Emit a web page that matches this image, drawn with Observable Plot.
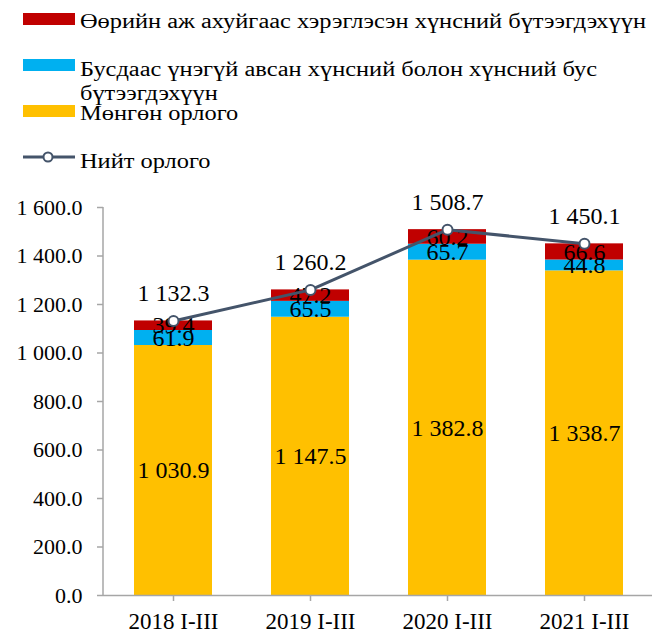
<!DOCTYPE html>
<html>
<head>
<meta charset="utf-8">
<script src="https://cdn.jsdelivr.net/npm/d3@7"></script>
<script src="https://cdn.jsdelivr.net/npm/@observablehq/plot@0.6"></script>
<style>
  html, body { margin: 0; padding: 0; background: #fff; }
  #wrap { position: relative; width: 652px; height: 633px; font-family: 'Liberation Serif', serif; color: #000; }
  #legend { position: relative; width: 652px; height: 180px; }
  .sw { position: absolute; left: 23px; width: 52px; height: 12px; }
  .lt { position: absolute; left: 80px; font-family: 'Liberation Serif', serif; font-size: 20px; line-height: 24px; white-space: nowrap; transform-origin: 0 0; }
  #chart { position: absolute; left: 0; top: 180px; }
  #chart svg text { font-family: 'Liberation Serif', serif; }
</style>
</head>
<body>
<div id="wrap">
  <div id="legend"></div>
  <div id="chart"></div>
</div>
<script>
const categories = ["2018 I-III", "2019 I-III", "2020 I-III", "2021 I-III"];
const moneyIncome = [1030.9, 1147.5, 1382.8, 1338.7];
const freeReceived = [61.9, 65.5, 65.7, 44.8];
const ownProduced = [39.4, 47.2, 60.2, 66.6];
const totalIncome = [1132.3, 1260.2, 1508.7, 1450.1];
const seriesNames = [
  "Өөрийн аж ахуйгаас хэрэглэсэн хүнсний бүтээгдэхүүн",
  "Бусдаас үнэгүй авсан хүнсний болон хүнсний бус бүтээгдэхүүн",
  "Мөнгөн орлого",
  "Нийт орлого"
];
const yTicks = [0, 200, 400, 600, 800, 1000, 1200, 1400, 1600];

const colRed = "#C00000", colBlue = "#00B0F0", colYellow = "#FFC000", colLine = "#44546A", colAxis = "#A6A6A6";
const stackOrder = [seriesNames[2], seriesNames[1], seriesNames[0]];

const stackData = [];
categories.forEach((c, i) => {
  stackData.push({category: c, series: seriesNames[2], value: moneyIncome[i]});
  stackData.push({category: c, series: seriesNames[1], value: freeReceived[i]});
  stackData.push({category: c, series: seriesNames[0], value: ownProduced[i]});
});
const totalData = categories.map((c, i) => ({category: c, value: totalIncome[i]}));

const fmt = v => d3.format(",.1f")(v).replace(/,/g, " ");

// Legend (HTML)
const legend = document.getElementById("legend");
const legendItems = [
  {color: colRed, swTop: 13, textTop: 9, lines: [seriesNames[0]]},
  {color: colBlue, swTop: 59, textTop: 57, lines: ["Бусдаас үнэгүй авсан хүнсний болон хүнсний бус", "бүтээгдэхүүн"]},
  {color: colYellow, swTop: 105, textTop: 101, lines: [seriesNames[2]]}
];
const legendTexts = [];
legendItems.forEach(it => {
  const sw = document.createElement("div");
  sw.className = "sw"; sw.style.top = it.swTop + "px"; sw.style.background = it.color;
  legend.appendChild(sw);
  const t = document.createElement("div");
  t.className = "lt"; t.style.top = it.textTop + "px";
  t.innerHTML = it.lines.join("<br>");
  legend.appendChild(t);
  legendTexts.push(t);
});
{
  const svgNS = "http://www.w3.org/2000/svg";
  const s = document.createElementNS(svgNS, "svg");
  s.setAttribute("width", 60); s.setAttribute("height", 20);
  s.style.position = "absolute"; s.style.left = "20px"; s.style.top = "147px";
  s.innerHTML = `<line x1="3" x2="55" y1="10" y2="10" stroke="${colLine}" stroke-width="3"/><circle cx="28" cy="10" r="4.5" fill="#fff" stroke="${colLine}" stroke-width="2"/>`;
  legend.appendChild(s);
  const t = document.createElement("div");
  t.className = "lt"; t.style.top = "149px";
  t.textContent = seriesNames[3];
  legend.appendChild(t);
  legendTexts.push(t);
}
// widen legend text to the reference's wide lettering (first line ends near x=646)
{
  const w = legendTexts[0].getBoundingClientRect().width;
  const s = Math.max(1, Math.min(1.3, 566 / w));
  legendTexts.forEach(t => t.style.transform = `scaleX(${s})`);
}

const chart = Plot.plot({
  width: 652,
  height: 453,
  marginTop: 27,
  marginBottom: 38,
  marginLeft: 103,
  marginRight: -2,
  style: {fontFamily: "'Liberation Serif', serif", fontSize: "21px", color: "#000", background: "transparent", overflow: "visible"},
  x: {domain: categories, paddingInner: 0.434, paddingOuter: 0.217, label: null, axis: null},
  y: {domain: [0, 1600], label: null, axis: null},
  color: {domain: stackOrder, range: [colYellow, colBlue, colRed]},
  marks: [
    Plot.barY(stackData, Plot.stackY({x: "category", y: "value", z: "series", fill: "series", order: stackOrder})),
    Plot.ruleY([0], {stroke: colAxis, strokeWidth: 1.5}),
    Plot.axisY({ticks: yTicks, tickFormat: fmt, tickSize: 6, tickPadding: 15, stroke: colAxis, strokeWidth: 1.5, fill: "#000", fontSize: 22, label: null}),
    Plot.axisX({tickSize: 6, tickPadding: 11, stroke: colAxis, strokeWidth: 1.5, fill: "#000", fontSize: 23, label: null}),
    Plot.text(stackData, Plot.stackY({x: "category", y: "value", z: "series", order: stackOrder, text: d => fmt(d.value), fontSize: 24, fill: "#000"})),
    Plot.line(totalData, {x: "category", y: "value", stroke: colLine, strokeWidth: 3}),
    Plot.dot(totalData, {x: "category", y: "value", r: 5, fill: "#fff", stroke: colLine, strokeWidth: 2}),
    Plot.text(totalData, {x: "category", y: "value", text: d => fmt(d.value), lineAnchor: "bottom", dy: -20, fontSize: 24, fill: "#000"})
  ]
});

// vertical y-axis line from the library's scales
{
  const ys = chart.scale("y"), xs = chart.scale("x");
  const yScale = d3.scaleLinear(ys.domain, ys.range);
  const x0 = xs.range[0];
  d3.select(chart).append("line")
    .attr("x1", x0).attr("x2", x0)
    .attr("y1", yScale(ys.domain[0])).attr("y2", yScale(ys.domain[1]))
    .attr("stroke", colAxis).attr("stroke-width", 1.5);
}

document.getElementById("chart").appendChild(chart);
</script>
</body>
</html>
